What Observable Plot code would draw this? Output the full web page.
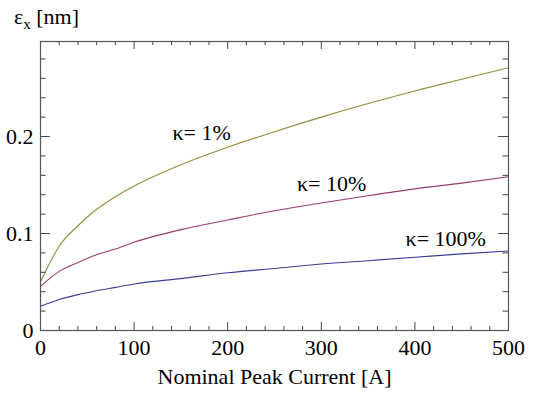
<!DOCTYPE html>
<html>
<head>
<meta charset="utf-8">
<script src="https://cdn.jsdelivr.net/npm/d3@7"></script>
<script src="https://cdn.jsdelivr.net/npm/@observablehq/plot@0.6"></script>
<style>
  html, body { margin: 0; padding: 0; background: #fff; }
</style>
</head>
<body>
<div id="chart"></div>
<script>
// Nominal peak current [A]
const current = [0, 20, 40, 60, 80, 100, 150, 200, 250, 300, 350, 400, 450, 500];
// emittance eps_x [nm] for kappa = 1%, 10%, 100%
const kappa1   = [0.050, 0.087, 0.108, 0.125, 0.138, 0.149, 0.171, 0.189, 0.205, 0.220, 0.234, 0.247, 0.259, 0.271];
const kappa10  = [0.0455, 0.061, 0.070, 0.078, 0.084, 0.091, 0.104, 0.114, 0.1235, 0.1315, 0.139, 0.146, 0.152, 0.1585];
const kappa100 = [0.025, 0.032, 0.037, 0.041, 0.0445, 0.048, 0.0535, 0.0595, 0.064, 0.0685, 0.072, 0.0755, 0.079, 0.082];
const seriesNames = ["κ= 1%", "κ= 10%", "κ= 100%"];

// curve labels (data coordinates)
const labelText = ["κ= 1%", "κ= 10%", "κ= 100%"];
const labelX = [141, 274, 390];
const labelY = [0.204, 0.151, 0.094];

// ticks
const xMajor = [0, 100, 200, 300, 400, 500];
const xMinor = [20, 40, 60, 80, 120, 140, 160, 180, 220, 240, 260, 280, 320, 340, 360, 380, 420, 440, 460, 480];
const yMajor = [0, 0.1, 0.2];
const yMinor = [0.02, 0.04, 0.06, 0.08, 0.12, 0.14, 0.16, 0.18, 0.22, 0.24, 0.26, 0.28];
const yTickLabels = ["0", "0.1", "0.2"];
const xTickLabels = ["0", "100", "200", "300", "400", "500"];

const colors = ["#998b3d", "#993d71", "#3d3d99"];
const allSeries = [kappa1, kappa10, kappa100];
const rows = [];
allSeries.forEach((vals, s) => current.forEach((c, i) => rows.push({I: c, eps: vals[i], series: seriesNames[s]})));

const W = 542, H = 400, mT = 41, mB = 70, mL = 40, mR = 34;
const fh = H - mT - mB;
const fw = W - mL - mR;
const tickCol = "#444";
const serif = "'Liberation Serif','Times New Roman',serif";

const plot = Plot.plot({
  width: W, height: H,
  marginTop: mT, marginBottom: mB, marginLeft: mL, marginRight: mR,
  style: {fontFamily: serif, fontSize: "22px", background: "#fff", overflow: "visible"},
  x: {domain: [0, 500], axis: null},
  y: {domain: [0, 0.298], axis: null},
  color: {domain: seriesNames, range: colors},
  marks: [
    Plot.line(rows, {x: "I", y: "eps", z: "series", stroke: "series", strokeWidth: 1.1, curve: "monotone-x"}),
    // bottom & top ticks
    Plot.tickX(xMajor, {x: d => d, insetTop: fh - 8, stroke: tickCol}),
    Plot.tickX(xMinor, {x: d => d, insetTop: fh - 4, stroke: tickCol}),
    Plot.tickX(xMajor, {x: d => d, insetBottom: fh - 8, stroke: tickCol}),
    Plot.tickX(xMinor, {x: d => d, insetBottom: fh - 4, stroke: tickCol}),
    // left & right ticks
    Plot.tickY(yMajor, {y: d => d, insetRight: fw - 10, stroke: tickCol}),
    Plot.tickY(yMinor, {y: d => d, insetRight: fw - 5.5, stroke: tickCol}),
    Plot.tickY(yMajor, {y: d => d, insetLeft: fw - 10, stroke: tickCol}),
    Plot.tickY(yMinor, {y: d => d, insetLeft: fw - 5.5, stroke: tickCol}),
    Plot.frame({stroke: "#555", strokeWidth: 1.2}),
    // tick labels
    Plot.text(xMajor, {x: d => d, text: (d, i) => xTickLabels[i], frameAnchor: "bottom", lineAnchor: "top", dy: 9, fill: "#000"}),
    Plot.text(yMajor, {y: d => d, text: (d, i) => yTickLabels[i], frameAnchor: "left", textAnchor: "end", dx: -7, fill: "#000"}),
    // axis title
    Plot.text(["Nominal Peak Current [A]"], {text: d => d, frameAnchor: "bottom", lineAnchor: "top", dy: 38, fill: "#000"}),
    // curve labels
    Plot.text(labelText, {x: (d, i) => labelX[i], y: (d, i) => labelY[i], text: d => d, textAnchor: "start", fill: "#000"})
  ]
});

// y-axis title with subscript
const yl = d3.select(plot).append("text")
  .attr("x", 14).attr("y", 24)
  .attr("text-anchor", "start")
  .attr("fill", "#000")
  .style("font-family", serif)
  .style("font-size", "22px");
yl.append("tspan").text("ε");
yl.append("tspan").attr("dy", 5).style("font-size", "15px").text("x");
yl.append("tspan").attr("dy", -5).text(" [nm]");

document.getElementById("chart").appendChild(plot);
</script>
</body>
</html>
